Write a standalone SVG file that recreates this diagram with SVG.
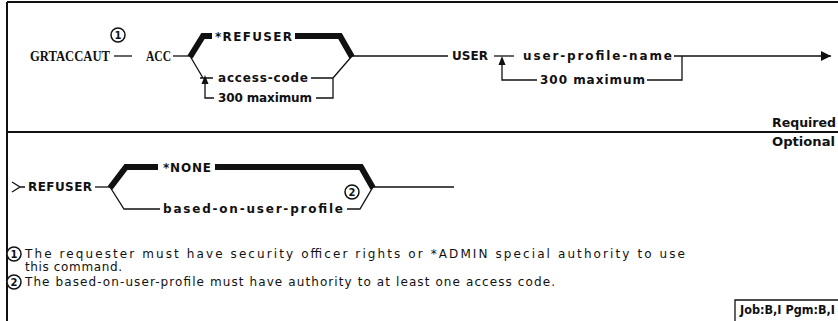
<svg xmlns="http://www.w3.org/2000/svg" width="838" height="321" viewBox="0 0 838 321">
<style>
.frame{stroke:#111;stroke-width:2;fill:none}
.ln{stroke:#111;stroke-width:1.3;fill:none}
.thick{stroke:#111;stroke-width:6;fill:none;stroke-linejoin:miter}
.ah{fill:#111}
.kw{font-family:"DejaVu Sans",Arial,sans-serif;font-weight:bold;font-size:12px;fill:#111}
.vr{font-family:"DejaVu Sans",Arial,sans-serif;font-weight:bold;font-size:12px;fill:#111}
.cmd{font-family:"Liberation Serif","Times New Roman",serif;font-weight:bold;font-size:14px;fill:#111}
.note{font-family:"DejaVu Sans",Arial,sans-serif;font-size:12px;fill:#111}
.lab{font-family:"DejaVu Sans",Arial,sans-serif;font-weight:bold;font-size:11.5px;fill:#111}
.circ{stroke:#111;stroke-width:1.5;fill:#fff}
.cn{font-family:"DejaVu Sans",Arial,sans-serif;font-weight:bold;font-size:10px;fill:#111;text-anchor:middle}
</style>
<defs>
<marker id="arr" viewBox="0 0 10 10" refX="10" refY="5" markerWidth="8" markerHeight="8" orient="auto">
<path d="M0,0 L10,5 L0,10 z" fill="#111"/>
</marker>
</defs>

<g id="frame">
<path class="frame" d="M7,2 L838,2 M7,2 L7,321 M7,132 L838,132"/>
<path class="ln" d="M735,321 L735,300 L838,300"/>
</g>

<g id="connectors">
<!-- top row -->
<path class="ln" d="M114,56 L132,56"/>
<path class="ln" d="M173,56 L190,56"/>
<path class="thick" d="M190,57 L203,36 L212,36"/>
<path class="thick" d="M295,36 L340,36 L352,57"/>
<path class="ln" d="M190,56 L203,78 M200,78 L213,78"/>
<path class="ln" d="M205,83 L205,98 L214,98"/>
<polygon class="ah" points="205,75 201.5,84 208.5,84"/>
<path class="ln" d="M311,78 L333,78 L352,56 M333,78 L333,98 L316,98"/>
<path class="ln" d="M352,56 L448,56"/>
<path class="ln" d="M494,56 L514,56"/>
<polygon class="ah" points="502,56 498.5,65 505.5,65"/>
<path class="ln" d="M502,65 L502,80 L537,80"/>
<path class="ln" d="M674,56 L682,56 L682,80 L647,80 M682,56 L831,56" marker-end="url(#arr)"/>
<!-- bottom row -->
<path class="ln" d="M12,182 L20,187 L12,192 M20,187 L25,187"/>
<path class="ln" d="M95,187 L110,187"/>
<path class="thick" d="M110,188 L126,167 L158,167"/>
<path class="thick" d="M215,167 L361,167 L373,188"/>
<path class="ln" d="M110,187 L124,209 L160,209"/>
<path class="ln" d="M347,209 L360,209 L373,187 L454,187"/>
</g>

<g id="n-cmd">
<text class="cmd" x="30" y="61" textLength="80" lengthAdjust="spacingAndGlyphs">GRTACCAUT</text>
<circle class="circ" cx="118" cy="35" r="7"/>
<text class="cn" x="118" y="39">1</text>
</g>
<g id="n-acc"><text class="cmd" x="146" y="61" textLength="25" lengthAdjust="spacingAndGlyphs">ACC</text></g>
<g id="n-refuser"><text class="kw" x="215" y="41" textLength="77" lengthAdjust="spacing">*REFUSER</text></g>
<g id="n-accesscode"><text class="vr" x="218" y="82" textLength="90" lengthAdjust="spacing">access-code</text></g>
<g id="n-max1"><text class="vr" x="218" y="102" textLength="94" lengthAdjust="spacing">300 maximum</text></g>
<g id="n-user"><text class="kw" x="452" y="60" textLength="36" lengthAdjust="spacing">USER</text></g>
<g id="n-upn"><text class="vr" x="523" y="60" textLength="149" lengthAdjust="spacing">user-profile-name</text></g>
<g id="n-max2"><text class="vr" x="540" y="84" textLength="105" lengthAdjust="spacing">300 maximum</text></g>
<g id="n-required"><text class="lab" x="772" y="127" textLength="64" lengthAdjust="spacingAndGlyphs">Required</text></g>
<g id="n-optional"><text class="lab" x="772" y="146" textLength="63" lengthAdjust="spacingAndGlyphs">Optional</text></g>

<g id="n-refuser2"><text class="kw" x="28" y="191" textLength="64" lengthAdjust="spacing">REFUSER</text></g>
<g id="n-none"><text class="kw" x="163" y="172" textLength="48" lengthAdjust="spacing">*NONE</text></g>
<g id="n-based"><text class="vr" x="163" y="213" textLength="180" lengthAdjust="spacing">based-on-user-profile</text>
<circle class="circ" cx="352" cy="192" r="7"/>
<text class="cn" x="352" y="196">2</text></g>

<g id="n-note1">
<circle class="circ" cx="14" cy="254" r="7"/>
<text class="cn" x="14" y="258">1</text>
<text class="note" x="25" y="258" textLength="660" lengthAdjust="spacing">The requester must have security officer rights or *ADMIN special authority to use</text>
<text class="note" x="25" y="271" textLength="97" lengthAdjust="spacing">this command.</text>
</g>
<g id="n-note2">
<circle class="circ" cx="14" cy="282" r="7"/>
<text class="cn" x="14" y="286">2</text>
<text class="note" x="25" y="286" textLength="530" lengthAdjust="spacing">The based-on-user-profile must have authority to at least one access code.</text>
</g>
<g id="n-job"><text class="lab" x="740" y="314" textLength="95" lengthAdjust="spacingAndGlyphs">Job:B,I Pgm:B,I</text></g>
</svg>
